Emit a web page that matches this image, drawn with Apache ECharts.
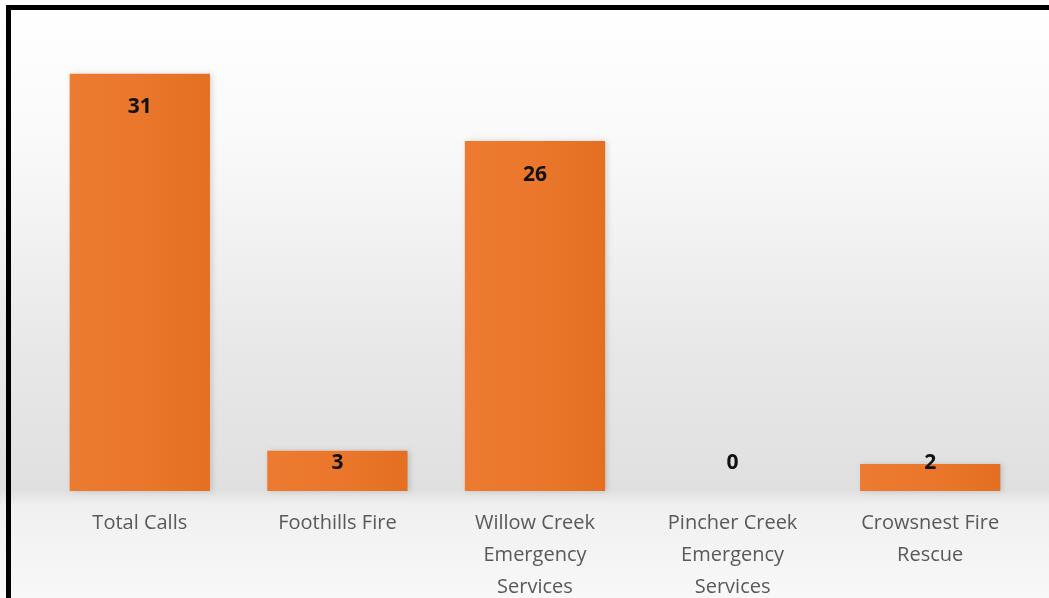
<!DOCTYPE html>
<html>
<head>
<meta charset="utf-8">
<script src="https://cdn.jsdelivr.net/npm/echarts@6/dist/echarts.min.js"></script>
<style>
html,body{margin:0;padding:0;background:#fff;}
#c{width:1049px;height:598px;}
</style>
</head>
<body>
<div id="c"></div>
<script>
const categories = ["Total Calls", "Foothills Fire", "Willow Creek\nEmergency\nServices", "Pincher Creek\nEmergency\nServices", "Crowsnest Fire\nRescue"];
const values = [31, 3, 26, 0, 2];

const chart = echarts.init(document.getElementById('c'), null, {renderer: 'canvas'});
const barColor = new echarts.graphic.LinearGradient(0, 0, 1, 0, [
  {offset: 0, color: '#EC7A30'},
  {offset: 0.5, color: '#EA772B'},
  {offset: 1, color: '#E46F22'}
]);
const data = values.map(v => ({
  value: v,
  label: v > 5
    ? {position: 'insideTop', distance: 23}
    : {position: 'insideBottom', distance: 17}
}));
chart.setOption({
  backgroundColor: new echarts.graphic.LinearGradient(0, 0, 0, 1, [
    {offset: 0, color: '#ffffff'},
    {offset: 0.25, color: '#f9f9f9'},
    {offset: 0.58, color: '#e8e8e8'},
    {offset: 0.82, color: '#e0e0e0'},
    {offset: 0.845, color: '#f0f0f0'},
    {offset: 1, color: '#f8f8f8'}
  ]),
  animation: false,
  grid: {left: 41, right: 20, top: 20, bottom: 107, containLabel: false, outerBoundsMode: 'none'},
  xAxis: {
    type: 'category',
    data: categories,
    axisLine: {show: false},
    axisTick: {show: false},
    axisLabel: {
      interval: 0,
      margin: 16,
      color: '#595959',
      fontFamily: '"Open Sans", Lato, sans-serif',
      fontSize: 20,
      lineHeight: 32
    }
  },
  yAxis: {
    type: 'value',
    min: 0,
    max: 35,
    show: false,
    splitLine: {show: false}
  },
  series: [{
    type: 'bar',
    data: data,
    barWidth: '71%',
    itemStyle: {color: barColor, shadowColor: 'rgba(0,0,0,0.15)', shadowBlur: 6, shadowOffsetX: 2},
    label: {
      show: true,
      color: '#111',
      fontWeight: 'bold',
      fontSize: 21,
      fontFamily: '"Open Sans", Lato, sans-serif'
    }
  }],
  graphic: [
    {type: 'rect', shape: {x: 6, y: 5, width: 1043, height: 5}, style: {fill: '#000'}, z: 100},
    {type: 'rect', shape: {x: 6, y: 5, width: 5, height: 593}, style: {fill: '#000'}, z: 100}
  ]
});
</script>
</body>
</html>
